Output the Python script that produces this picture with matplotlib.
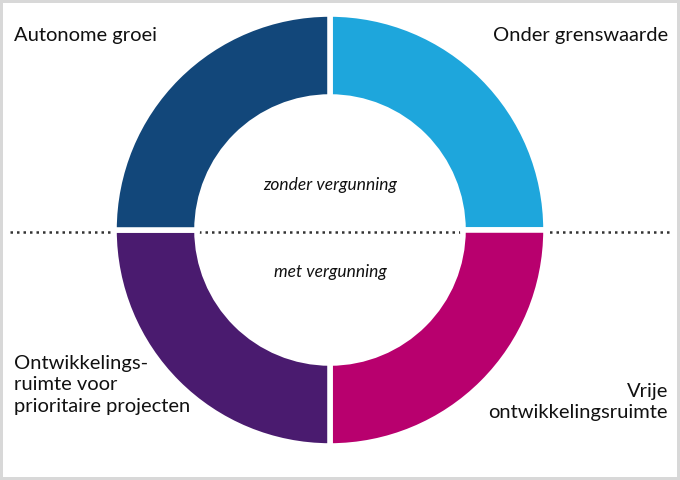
import matplotlib
matplotlib.use("Agg")
import matplotlib.pyplot as plt

# four equal quadrants, clockwise from top-right
segments = ["Onder grenswaarde", "Vrije ontwikkelingsruimte",
            "Ontwikkelingsruimte voor prioritaire projecten", "Autonome groei"]
shares = [1, 1, 1, 1]
colors = ["#1ea6dc", "#b8006e", "#4a1b6f", "#12477a"]

plt.rcParams["font.family"] = ["Lato", "DejaVu Sans"]

fig = plt.figure(figsize=(6.8, 4.8), dpi=100)
ax = fig.add_axes([0, 0, 1, 1])
ax.set_xlim(0, 680)
ax.set_ylim(0, 480)
ax.set_aspect("equal")
ax.axis("off")

cx, cy, R = 330, 250, 216
# dotted separator line
ax.plot([10, 670], [cy - 2, cy - 2], color="#333333", lw=1.8, ls=(0, (1, 1.6)), zorder=1)
ax.pie(shares, colors=colors, startangle=90, counterclock=False,
       center=(cx, cy), radius=R, frame=True,
       wedgeprops=dict(width=83, edgecolor="white", linewidth=4, zorder=2))
ax.set_xlim(0, 680)
ax.set_ylim(0, 480)
ax.axis("off")

fs = 14.5
ax.text(14, 445, "Autonome groei", fontsize=fs, ha="left", va="center", color="#111")
ax.text(668, 445, "Onder grenswaarde", fontsize=fs, ha="right", va="center", color="#111")
ax.text(14, 95, "Ontwikkelings-\nruimte voor\nprioritaire projecten", fontsize=fs,
        ha="left", va="center", color="#111", linespacing=1.3)
ax.text(668, 78, "Vrije\nontwikkelingsruimte", fontsize=fs, ha="right", va="center",
        color="#111", linespacing=1.3, multialignment="right")
ax.text(cx, cy + 45, "zonder vergunning", fontsize=12.5, style="italic",
        ha="center", va="center", color="#111")
ax.text(cx, cy - 42, "met vergunning", fontsize=12.5, style="italic",
        ha="center", va="center", color="#111")

fig.patch.set_edgecolor("#d8d8d8")
fig.patch.set_linewidth(3)
fig.savefig("out.png", dpi=100, edgecolor=fig.get_edgecolor())
